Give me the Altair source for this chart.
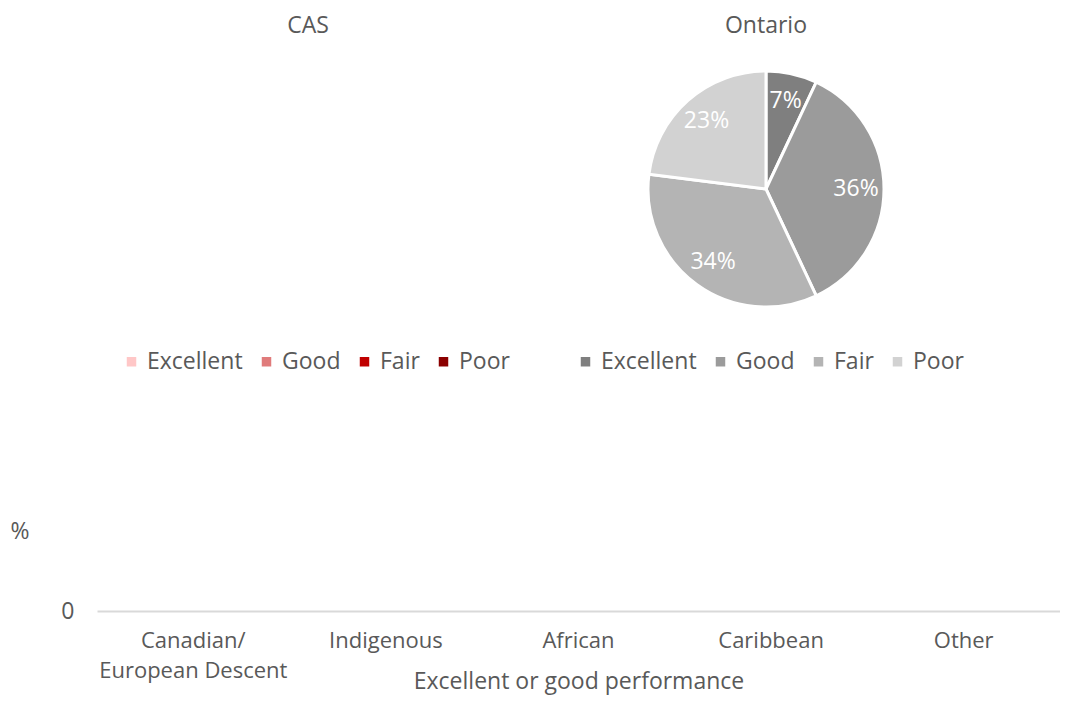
import altair as alt
import pandas as pd

# ---- data ----
ratings = ["Excellent", "Good", "Fair", "Poor"]
cas_values = [None, None, None, None]
ontario_values = [7, 36, 34, 23]
cas_colors = ["#ffc7c7", "#e07b7b", "#c00000", "#8b0000"]
ontario_colors = ["#7f7f7f", "#9b9b9b", "#b4b4b4", "#d2d2d2"]

groups = ["Canadian/\nEuropean Descent", "Indigenous", "African", "Caribbean", "Other"]
group_values = [None, None, None, None, None]

FONT = "Open Sans"
TEXT = "#595959"
FS = 23


def pie(values, colors, title, legend_x):
    df = pd.DataFrame({"rating": ratings, "value": values, "order": list(range(len(ratings)))})
    base = alt.Chart(df).transform_filter(
        "isValid(datum.value)"
    ).transform_calculate(
        label="format(datum.value, 'd') + '%'"
    ).encode(
        theta=alt.Theta("value:Q", stack=True),
        order=alt.Order("order:Q"),
    )
    arcs = base.mark_arc(outerRadius=118, stroke="white", strokeWidth=3).encode(
        color=alt.Color(
            "rating:N",
            sort=ratings,
            scale=alt.Scale(domain=ratings, range=colors),
            legend=alt.Legend(
                orient="none",
                legendX=legend_x,
                legendY=286,
                direction="horizontal",
                title=None,
                symbolType="square",
                symbolSize=90,
                symbolStrokeWidth=0,
                labelFontSize=FS,
                labelFont=FONT,
                labelColor=TEXT,
                labelOffset=4,
                columnPadding=12,
            ),
        )
    )
    labels = base.mark_text(radius=90, fontSize=FS, font=FONT, color="white").encode(
        text="label:N"
    )
    return alt.layer(arcs, labels).properties(
        width=422,
        height=250,
        title=alt.TitleParams(
            title, fontSize=FS, font=FONT, color=TEXT, fontWeight="normal",
            offset=3, baseline="bottom"
        ),
    )


cas_pie = pie(cas_values, cas_colors, "CAS", 23)
ont_pie = pie(ontario_values, ontario_colors, "Ontario", 19)

top = alt.hconcat(cas_pie, ont_pie, spacing=36, bounds="flush").resolve_scale(
    color="independent", theta="independent"
)

bar_df = pd.DataFrame({"group": groups, "value": group_values})
bar = alt.Chart(bar_df).mark_bar(color="#c00000").encode(
    x=alt.X(
        "group:N",
        sort=groups,
        scale=alt.Scale(domain=groups, paddingInner=0, paddingOuter=0),
        axis=alt.Axis(
            title="Excellent or good performance",
            labelAngle=0,
            labelExpr="split(datum.label, '\\n')",
            labelLineHeight=30,
            labelLimit=400,
            labelOverlap=False,
            domainColor="#d9d9d9",
            domainWidth=2,
            ticks=False,
            labelPadding=19,
            titleY=70,
            titleBaseline="middle",
            labelFontSize=22,
            titleFontSize=FS,
            labelFont=FONT,
            titleFont=FONT,
            labelColor=TEXT,
            titleColor=TEXT,
            titleFontWeight="normal",
        ),
    ),
    y=alt.Y(
        "value:Q",
        scale=alt.Scale(domain=[0, 1]),
        axis=alt.Axis(
            values=[0],
            title="%",
            titleAngle=0,
            titleAlign="left",
            titleBaseline="middle",
            titleX=-87,
            titleY=10,
            domain=False,
            ticks=False,
            grid=False,
            labelPadding=23,
            labelFontSize=FS,
            labelFont=FONT,
            labelColor=TEXT,
            titleColor=TEXT,
            titleFont=FONT,
            titleFontSize=FS,
            titleFontWeight="normal",
        ),
    ),
).properties(width=963, height=90)

chart = alt.vconcat(top, bar, spacing=146).properties(
    padding={"left": 2, "top": 7, "right": 0, "bottom": 5},
    background="white",
).configure_view(strokeWidth=0)

chart.save("out.html", embed_options={"renderer": "svg", "actions": False})
